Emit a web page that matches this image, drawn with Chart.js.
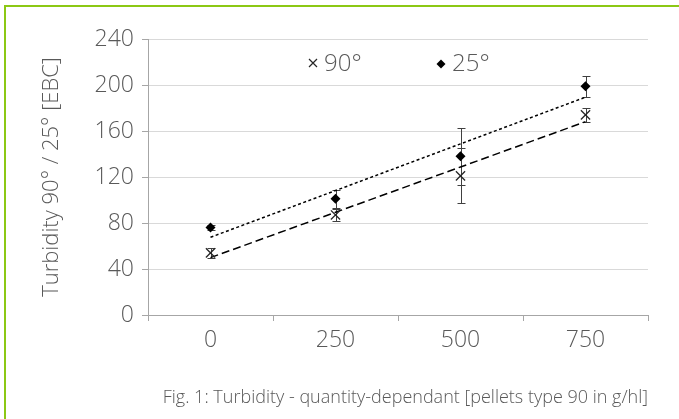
<!DOCTYPE html>
<html>
<head>
<meta charset="utf-8">
<script src="https://cdn.jsdelivr.net/npm/chart.js@4.4.0/dist/chart.umd.min.js"></script>
<style>
  html, body { margin: 0; padding: 0; background: #fff; overflow: hidden; }
  #frame { position: absolute; left: 4px; top: 5px; width: 675px; height: 414px; box-sizing: border-box;
           border-left: 2px solid #8cc814; border-top: 2px solid #8cc814; }
  #wrap { position: absolute; left: 0; top: 0; width: 679px; height: 419px; }
</style>
</head>
<body>
<div id="frame"></div>
<div id="wrap"><canvas id="myChart" width="679" height="419"></canvas></div>
<script>
// data
var categories = ['0', '250', '500', '750'];
var yTicks = [0, 40, 80, 120, 160, 200, 240];
var turb90 = [54, 87, 121, 174];
var turb25 = [76, 101, 138, 199];
var err90 = [4, 5, 24, 6];
var err25 = [2, 8, 25, 9];
var legendLabels = ['90°', '25°'];
var yTitle = 'Turbidity 90° / 25° [EBC]';
var caption = 'Fig. 1: Turbidity - quantity-dependant [pellets type 90 in g/hl]';

var textColor = '#595959';
var fontFamily = '"Open Sans", Lato, sans-serif';
var fontWeight = '300';

// linear trendline (least squares over category index)
function trend(values) {
  var n = values.length, mx = 0, my = 0, sxy = 0, sxx = 0;
  values.forEach(function(v, i) { mx += i; my += v; });
  mx /= n; my /= n;
  values.forEach(function(v, i) { sxy += (i - mx) * (v - my); sxx += (i - mx) * (i - mx); });
  var b = sxy / sxx, a = my - b * mx;
  return values.map(function(v, i) { return a + b * i; });
}

// error bars
var errorBars = {
  id: 'errorBars',
  beforeDatasetsDraw: function(chart) {
    var ctx = chart.ctx, x = chart.scales.x, y = chart.scales.y;
    ctx.save();
    ctx.strokeStyle = '#404040';
    ctx.lineWidth = 1;
    [[turb90, err90], [turb25, err25]].forEach(function(s) {
      s[0].forEach(function(v, i) {
        var px = Math.round(x.getPixelForValue(i)) + 0.5;
        var top = Math.round(y.getPixelForValue(v + s[1][i])) + 0.5;
        var bot = Math.round(y.getPixelForValue(v - s[1][i])) + 0.5;
        ctx.beginPath();
        ctx.moveTo(px, top); ctx.lineTo(px, bot);
        ctx.moveTo(px - 4, top); ctx.lineTo(px + 4, top);
        ctx.moveTo(px - 4, bot); ctx.lineTo(px + 4, bot);
        ctx.stroke();
      });
    });
    ctx.restore();
  }
};

// legend sits inside the plot area
var legendInside = {
  id: 'legendInside',
  afterDraw: function(chart) {
    var ctx = chart.ctx, area = chart.chartArea;
    var cx = (area.left + area.right) / 2, my = area.top + 24, ty = area.top + 32;
    ctx.save();
    // x marker
    var mx = cx - 85;
    ctx.strokeStyle = '#262626';
    ctx.lineWidth = 1.2;
    ctx.beginPath();
    ctx.moveTo(mx - 4, my - 4); ctx.lineTo(mx + 4, my + 4);
    ctx.moveTo(mx - 4, my + 4); ctx.lineTo(mx + 4, my - 4);
    ctx.stroke();
    // diamond
    var dx = cx + 43;
    ctx.fillStyle = '#000';
    ctx.beginPath();
    ctx.moveTo(dx - 4.5, my + 1); ctx.lineTo(dx, my - 3.5);
    ctx.lineTo(dx + 4.5, my + 1); ctx.lineTo(dx, my + 5.5);
    ctx.closePath();
    ctx.fill();
    ctx.fillStyle = textColor;
    ctx.font = fontWeight + ' 24px ' + fontFamily;
    ctx.textBaseline = 'alphabetic';
    ctx.fillText(legendLabels[0], cx - 74, ty);
    ctx.fillText(legendLabels[1], cx + 54, ty);
    ctx.restore();
  }
};

var ctx = document.getElementById('myChart').getContext('2d');

var chart = new Chart(ctx, {
  type: 'line',
  data: {
    labels: categories,
    datasets: [{
      label: legendLabels[0],
      data: turb90,
      showLine: false,
      pointStyle: 'crossRot',
      pointRadius: 6.5,
      pointBorderWidth: 1.3,
      borderColor: '#262626',
      backgroundColor: 'transparent'
    },
    {
      label: legendLabels[1],
      data: turb25,
      showLine: false,
      pointStyle: 'rectRot',
      pointRadius: 5,
      pointBorderWidth: 0,
      borderColor: '#000',
      backgroundColor: '#000'
    },
    {
      label: 'trend 90',
      data: trend(turb90),
      borderColor: '#000',
      borderWidth: 1.5,
      borderDash: [8, 4],
      pointRadius: 0,
      fill: false
    },
    {
      label: 'trend 25',
      data: trend(turb25),
      borderColor: '#000',
      borderWidth: 1.5,
      borderDash: [3, 2.5],
      pointRadius: 0,
      fill: false
    }]
  },
  options: {
    responsive: false,
    animation: false,
    layout: { padding: { top: 39, right: 31, bottom: 7, left: 0 } },
    plugins: {
      legend: { display: false },
      tooltip: { enabled: false },
      title: {
        display: true,
        text: caption,
        position: 'bottom',
        align: 'end',
        color: textColor,
        font: { family: fontFamily, size: 18, weight: fontWeight },
        padding: { top: 3, bottom: 3 }
      }
    },
    scales: {
      x: {
        type: 'category',
        offset: true,
        grid: { drawOnChartArea: false, offset: true, tickLength: 6, tickColor: '#a6a6a6' },
        border: { color: '#a6a6a6' },
        ticks: { color: textColor, font: { family: fontFamily, size: 23, weight: fontWeight }, padding: 6, maxRotation: 0 },
        afterFit: function(s) { s.height = 69.4; }
      },
      y: {
        min: yTicks[0],
        max: yTicks[yTicks.length - 1],
        ticks: { stepSize: yTicks[1] - yTicks[0], color: textColor, font: { family: fontFamily, size: 23, weight: fontWeight }, padding: 8 },
        grid: { color: '#d9d9d9', tickLength: 6, tickColor: '#a6a6a6' },
        border: { color: '#a6a6a6' },
        title: {
          display: true,
          text: yTitle,
          color: textColor,
          font: { family: fontFamily, size: 22, weight: fontWeight },
          padding: { top: 39, bottom: 0 }
        },
        afterFit: function(s) { s.width = 148; }
      }
    }
  },
  plugins: [errorBars, legendInside]
});
</script>
</body>
</html>
